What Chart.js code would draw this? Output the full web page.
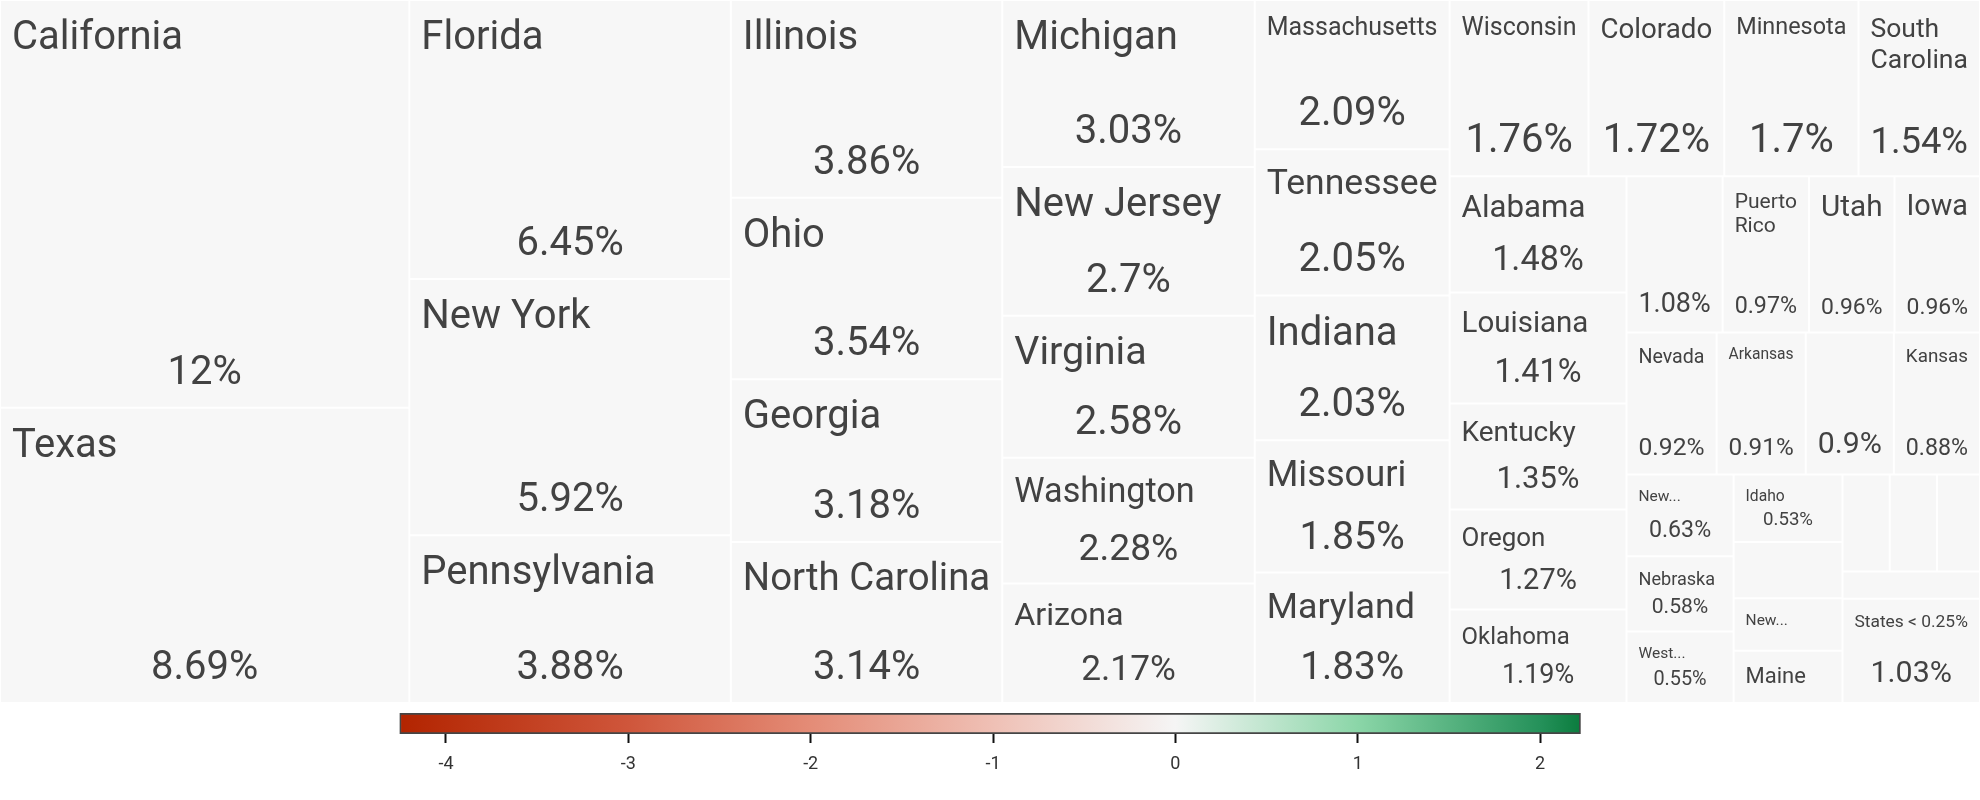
<!DOCTYPE html>
<html>
<head>
<meta charset="utf-8">
<title>Population share treemap</title>
<script src="https://cdn.jsdelivr.net/npm/chart.js@4.4.1/dist/chart.umd.min.js"></script>
<style>
  html, body { margin: 0; padding: 0; background: #ffffff; }
  #page { position: relative; width: 1980px; height: 800px; overflow: hidden; }
  #tmBox { position: absolute; left: 0; top: 0; width: 1980px; height: 703px; }
  #lgBox { position: absolute; left: 380px; top: 703px; width: 1220px; height: 97px; }
</style>
</head>
<body>
<div id="page">
  <div id="tmBox"><canvas id="treemap"></canvas></div>
  <div id="lgBox"><canvas id="legend"></canvas></div>
</div>
<script>
// ---------------- data ----------------
const stateNames = ['California', 'Texas', 'Florida', 'New York', 'Pennsylvania', 'Illinois', 'Ohio', 'Georgia',
  'North Carolina', 'Michigan', 'New Jersey', 'Virginia', 'Washington', 'Arizona', 'Massachusetts', 'Tennessee',
  'Indiana', 'Missouri', 'Maryland', 'Wisconsin', 'Colorado', 'Minnesota', 'South Carolina', 'Alabama',
  'Louisiana', 'Kentucky', 'Oregon', 'Oklahoma', 'Connecticut', 'Puerto Rico', 'Utah', 'Iowa', 'Nevada',
  'Arkansas', 'Mississippi', 'Kansas', 'New Mexico', 'Nebraska', 'West Virginia', 'Idaho', 'Hawaii',
  'New Hampshire', 'Maine', 'Rhode Island', 'Montana', 'Delaware', 'South Dakota', 'States < 0.25%'];
const populationShare = [12, 8.69, 6.45, 5.92, 3.88, 3.86, 3.54, 3.18,
  3.14, 3.03, 2.7, 2.58, 2.28, 2.17, 2.09, 2.05,
  2.03, 1.85, 1.83, 1.76, 1.72, 1.7, 1.54, 1.48,
  1.41, 1.35, 1.27, 1.19, 1.08, 0.97, 0.96, 0.96, 0.92,
  0.91, 0.9, 0.88, 0.63, 0.58, 0.55, 0.53, 0.44,
  0.41, 0.41, 0.33, 0.33, 0.3, 0.27, 1.03];
const legendMin = -4.255;
const legendMax = 2.223;
const legendTicks = [-4, -3, -2, -1, 0, 1, 2];
const legendStops = [-4.255, -3, -2, -1, 0, 1, 2, 2.223];
const legendColors = ['#b22400', '#cf563b', '#e48c77', '#efc0b5', '#f5f5f5', '#8bd6a8', '#25915a', '#0b7c3e'];

// ---------------- layout domain ----------------
const LAYOUT_W = 1980, LAYOUT_H = 703;

// squarified treemap (golden-ratio variant) computing rectangles in data units
function squarify(values, x0, y0, x1, y1) {
  const ratio = (1 + Math.sqrt(5)) / 2;
  const out = new Array(values.length);
  let value = values.reduce((a, b) => a + b, 0);
  let i0 = 0, i1 = 0;
  const n = values.length;
  while (i0 < n) {
    const dx = x1 - x0, dy = y1 - y0;
    let sumValue = values[i1++];
    let minValue = sumValue, maxValue = sumValue;
    const alpha = Math.max(dy / dx, dx / dy) / (value * ratio);
    let beta = sumValue * sumValue * alpha;
    let minRatio = Math.max(maxValue / beta, beta / minValue);
    for (; i1 < n; ++i1) {
      const nv = values[i1];
      sumValue += nv;
      if (nv < minValue) minValue = nv;
      if (nv > maxValue) maxValue = nv;
      beta = sumValue * sumValue * alpha;
      const newRatio = Math.max(maxValue / beta, beta / minValue);
      if (newRatio > minRatio) { sumValue -= nv; break; }
      minRatio = newRatio;
    }
    if (dx < dy) {
      const ny = y0 + dy * sumValue / value;
      let cx = x0;
      for (let i = i0; i < i1; i++) {
        const w = (x1 - x0) * values[i] / sumValue;
        out[i] = { x0: cx, x1: cx + w, y0: y0, y1: ny };
        cx += w;
      }
      y0 = ny;
    } else {
      const nx = x0 + dx * sumValue / value;
      let cy = y0;
      for (let i = i0; i < i1; i++) {
        const h = (y1 - y0) * values[i] / sumValue;
        out[i] = { x0: x0, x1: nx, y0: cy, y1: cy + h };
        cy += h;
      }
      x0 = nx;
    }
    value -= sumValue;
    i0 = i1;
  }
  return out;
}

const rects = squarify(populationShare, 0, 0, LAYOUT_W, LAYOUT_H);
const tiles = rects.map((r, i) => ({
  x: (r.x0 + r.x1) / 2, y: (r.y0 + r.y1) / 2,
  x0: r.x0, x1: r.x1, y0: r.y0, y1: r.y1,
  name: stateNames[i], share: populationShare[i]
}));

// ---------------- treemap controller (uses Chart.js BarElement for tiles) ----------------
class TreemapController extends Chart.DatasetController {
  update(mode) {
    const meta = this._cachedMeta;
    this.updateElements(meta.data, 0, meta.data.length, mode);
  }
  updateElements(elements, start, count, mode) {
    const meta = this._cachedMeta;
    const xs = meta.xScale, ys = meta.yScale;
    const raw = this.getDataset().data;
    for (let i = start; i < start + count; i++) {
      const d = raw[i];
      const left = xs.getPixelForValue(d.x0), right = xs.getPixelForValue(d.x1);
      const top = ys.getPixelForValue(d.y0), bottom = ys.getPixelForValue(d.y1);
      const props = {
        x: (left + right) / 2,
        y: Math.min(top, bottom),
        base: Math.max(top, bottom),
        width: right - left,
        height: Math.abs(bottom - top),
        horizontal: false,
        borderSkipped: { top: false, left: false, bottom: false, right: false },
        enableBorderRadius: false,
        inflateAmount: 0,
        options: this.resolveDataElementOptions(i, mode)
      };
      this.updateElement(elements[i], i, props, mode);
    }
  }
  draw() {
    const meta = this._cachedMeta;
    for (const el of meta.data) el.draw(this._ctx);
  }
}
TreemapController.id = 'treemapx';
TreemapController.defaults = { dataElementType: 'bar', datasetElementType: false };
TreemapController.overrides = {
  scales: { x: { type: 'linear', display: false }, y: { type: 'linear', display: false } }
};
Chart.register(TreemapController);

// ---------------- tile text layout ----------------
const FONT = 'Roboto';
const PAD = 12, MIN_LABEL = 15.5, MAX_LABEL = 40, MAX_VALUE = 40, MIN_VALUE = 14.5, LINE = 1.17;
const TEXT_COLOR = '#424242';

function emWidth(ctx, s) {
  ctx.font = '100px ' + FONT;
  return ctx.measureText(s).width / 100;
}
function fmtShare(v) { return String(v) + '%'; }

function planTile(ctx, name, valueText, w, h) {
  const avail = w - 2 * PAD;
  const plan = { lines: null, f: 0, v: 0 };
  if (avail <= 4) return plan;
  const v = Math.min(MAX_VALUE, 0.32 * h - 3, avail / emWidth(ctx, valueText));
  const showValue = v >= MIN_VALUE;
  const valueTop = showValue ? h - PAD - 1.23 * v : h - PAD;
  const target = showValue ? Math.min(MAX_LABEL, Math.max(MIN_LABEL, 0.32 * h - 6))
                           : Math.min(MAX_LABEL, 0.42 * h);
  const fitsV = (f, n) => PAD + n * LINE * f <= valueTop + 2;
  // a tile too short for both label and value shows nothing
  if (showValue && !fitsV(MIN_LABEL, 1)) return plan;
  if (showValue) plan.v = v;
  if (target < MIN_LABEL) return plan;
  const single = Math.min(target, avail / emWidth(ctx, name));
  if (single >= MIN_LABEL && fitsV(single, 1)) { plan.lines = [name]; plan.f = single; return plan; }
  const words = name.split(' ');
  if (words.length > 1) {
    const fw = Math.min(target, avail / Math.max(...words.map(s => emWidth(ctx, s))));
    if (fw >= MIN_LABEL && fitsV(fw, words.length)) { plan.lines = words; plan.f = fw; return plan; }
    for (let k = words.length - 1; k >= 1; k--) {
      const t = words.slice(0, k).join(' ') + '...';
      if (emWidth(ctx, t) * MIN_LABEL <= avail && fitsV(MIN_LABEL, 1)) {
        plan.lines = [t]; plan.f = MIN_LABEL; return plan;
      }
    }
  }
  return plan;
}

const tileLabels = {
  id: 'tileLabels',
  afterDatasetsDraw(chart) {
    const ctx = chart.ctx;
    const meta = chart.getDatasetMeta(0);
    const data = chart.data.datasets[0].data;
    ctx.save();
    ctx.fillStyle = TEXT_COLOR;
    meta.data.forEach((el, i) => {
      const p = el.getProps(['x', 'y', 'base', 'width'], true);
      const left = p.x - p.width / 2, top = p.y, w = p.width, h = p.base - p.y;
      const valueText = fmtShare(data[i].share);
      const plan = planTile(ctx, data[i].name, valueText, w, h);
      if (plan.lines) {
        ctx.font = plan.f + 'px ' + FONT;
        ctx.textAlign = 'left';
        ctx.textBaseline = 'alphabetic';
        plan.lines.forEach((ln, k) => {
          ctx.fillText(ln, left + PAD, top + PAD + 0.93 * plan.f + k * LINE * plan.f);
        });
      }
      if (plan.v) {
        ctx.font = plan.v + 'px ' + FONT;
        ctx.textAlign = 'center';
        ctx.textBaseline = 'alphabetic';
        ctx.fillText(valueText, p.x, p.base - PAD - 0.3 * plan.v);
      }
    });
    ctx.restore();
  }
};

new Chart(document.getElementById('treemap'), {
  type: 'treemapx',
  data: {
    datasets: [{
      data: tiles,
      backgroundColor: '#f7f7f7',
      borderColor: '#ffffff',
      borderWidth: 1
    }]
  },
  options: {
    responsive: true,
    maintainAspectRatio: false,
    animation: false,
    events: [],
    layout: { padding: 0 },
    plugins: { legend: { display: false }, tooltip: { enabled: false } },
    scales: {
      x: { type: 'linear', min: 0, max: LAYOUT_W, display: false },
      y: { type: 'linear', min: 0, max: LAYOUT_H, reverse: true, display: false }
    }
  },
  plugins: [tileLabels]
});

// ---------------- colour legend ----------------
function legendGradient(c) {
  const chart = c.chart;
  const xs = chart.scales && chart.scales.x;
  if (!chart.chartArea || !xs) return legendColors[4];
  const x0 = xs.getPixelForValue(legendMin), x1 = xs.getPixelForValue(legendMax);
  const g = chart.ctx.createLinearGradient(x0, 0, x1, 0);
  legendStops.forEach((v, i) => g.addColorStop((v - legendMin) / (legendMax - legendMin), legendColors[i]));
  return g;
}

new Chart(document.getElementById('legend'), {
  type: 'bar',
  data: {
    labels: ['scale'],
    datasets: [{
      data: [[legendMin, legendMax]],
      backgroundColor: legendGradient,
      borderColor: '#454545',
      borderWidth: 2,
      borderSkipped: false,
      barPercentage: 1,
      categoryPercentage: 1
    }]
  },
  options: {
    indexAxis: 'y',
    responsive: true,
    maintainAspectRatio: false,
    animation: false,
    events: [],
    layout: { padding: { left: 19.5, right: 19.3, top: 10, bottom: 0 } },
    plugins: { legend: { display: false }, tooltip: { enabled: false } },
    scales: {
      x: {
        type: 'linear',
        min: legendMin,
        max: legendMax,
        afterBuildTicks: axis => { axis.ticks = legendTicks.map(v => ({ value: v })); },
        afterFit: axis => { axis.height = 66; },
        grid: { drawOnChartArea: false, drawTicks: true, tickLength: 9, tickWidth: 2, tickColor: '#111111' },
        border: { display: false },
        ticks: { font: { family: FONT, size: 18 }, color: '#333333', padding: 11, autoSkip: false, maxRotation: 0 }
      },
      y: { display: false }
    }
  }
});
</script>
</body>
</html>
